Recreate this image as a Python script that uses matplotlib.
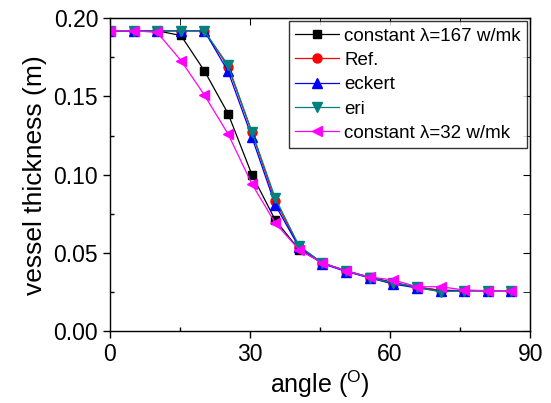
import matplotlib
matplotlib.use("Agg")
import matplotlib.pyplot as plt
from matplotlib.ticker import MultipleLocator

plt.rcParams['font.family'] = ['Liberation Sans', 'DejaVu Sans']
plt.rcParams['mathtext.fontset'] = 'custom'
plt.rcParams['mathtext.rm'] = 'Liberation Sans'

# angle positions (deg)
angle = [0, 5.1, 10.1, 15.2, 20.2, 25.3, 30.4, 35.4, 40.5,
         45.5, 50.6, 55.6, 60.7, 65.8, 70.8, 75.9, 80.9, 86.0]

# vessel thickness (m) for each model
const167 = [0.192, 0.192, 0.192, 0.189, 0.1665, 0.139, 0.100, 0.071, 0.052,
            0.0435, 0.0385, 0.0345, 0.031, 0.028, 0.026, 0.0258, 0.0258, 0.0258]
ref = [0.192, 0.192, 0.192, 0.192, 0.192, 0.169, 0.127, 0.083, 0.054,
       0.0435, 0.0385, 0.034, 0.0305, 0.028, 0.026, 0.0258, 0.0258, 0.0258]
eckert = [0.192, 0.192, 0.192, 0.192, 0.192, 0.166, 0.124, 0.0806, 0.0535,
          0.043, 0.038, 0.034, 0.030, 0.0275, 0.0255, 0.0258, 0.0258, 0.0258]
eri = [0.192, 0.192, 0.192, 0.192, 0.192, 0.170, 0.1275, 0.085, 0.0545,
       0.0435, 0.0385, 0.034, 0.0307, 0.028, 0.025, 0.0258, 0.0258, 0.0258]
const32 = [0.192, 0.192, 0.191, 0.173, 0.151, 0.126, 0.094, 0.069, 0.052,
           0.0435, 0.0384, 0.0345, 0.0326, 0.0283, 0.0283, 0.0262, 0.0258, 0.0258]

fig = plt.figure(figsize=(5.51, 4.03), dpi=100)
ax = fig.add_axes([0.1996, 0.1787, 0.7626, 0.7759])

ax.plot(angle, const167, color='black', lw=0.9, marker='s', ms=5.5,
        label='constant λ=167 w/mk')
ax.plot(angle, ref, color='red', lw=0.9, marker='o', ms=6.5, label='Ref.')
ax.plot(angle, eckert, color='blue', lw=0.9, marker='^', ms=7, label='eckert')
ax.plot(angle, eri, color='#008080', lw=0.9, marker='v', ms=7, label='eri')
ax.plot(angle, const32, color='magenta', lw=0.9, marker='<', ms=7,
        label='constant λ=32 w/mk')

ax.set_xlim(0, 90)
ax.set_ylim(0, 0.20)
ax.xaxis.set_major_locator(MultipleLocator(30))
ax.xaxis.set_minor_locator(MultipleLocator(15))
ax.yaxis.set_major_locator(MultipleLocator(0.05))
ax.yaxis.set_minor_locator(MultipleLocator(0.025))
ax.yaxis.set_major_formatter(plt.FormatStrFormatter('%.2f'))

ax.tick_params(which='major', direction='out', length=5, width=1, labelsize=16.5)
ax.tick_params(which='minor', direction='in', length=3, width=1)
for s in ax.spines.values():
    s.set_linewidth(1)

# inward ticks on the top and right edges
axt = ax.secondary_xaxis('top')
axt.xaxis.set_major_locator(MultipleLocator(30))
axt.xaxis.set_minor_locator(MultipleLocator(15))
axt.tick_params(which='both', direction='in', length=5, labeltop=False)
axr = ax.secondary_yaxis('right')
axr.yaxis.set_major_locator(MultipleLocator(0.05))
axr.yaxis.set_minor_locator(MultipleLocator(0.025))
axr.tick_params(which='both', direction='in', length=5, labelright=False)

ax.set_xlabel(r'angle ($^{\mathrm{O}}$)', fontsize=18, labelpad=2)
ax.set_ylabel('vessel thickness (m)', fontsize=19, labelpad=5)

leg = ax.legend(loc='upper right', fontsize=13.5, frameon=True, fancybox=False,
                edgecolor='black', borderaxespad=0.15, handlelength=2.3,
                handletextpad=0.3, labelspacing=0.38, borderpad=0.35)
leg.get_frame().set_linewidth(1)

fig.savefig('out.png', dpi=100)
